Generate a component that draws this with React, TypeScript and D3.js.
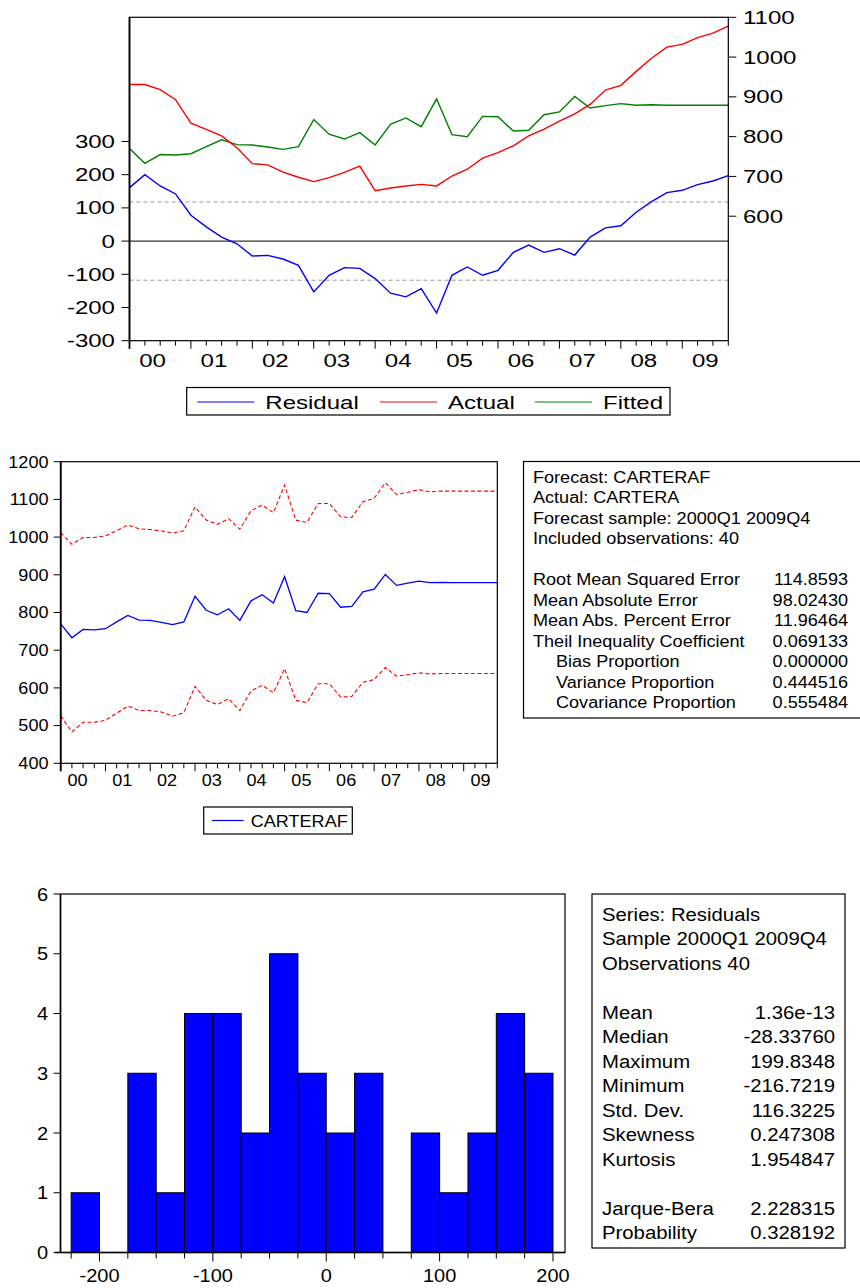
import React from "react";
import * as d3 from "d3";

// Quarterly sample 2000Q1 .. 2009Q4 (40 observations)
const yearLabels = ["00", "01", "02", "03", "04", "05", "06", "07", "08", "09"];

const residual = [
  161, 199.8, 166, 142, 78, 43, 12, -8, -45, -43, -54, -73, -153, -103, -80, -82,
  -113, -157, -168, -143, -216.7, -103, -78, -103, -88, -34, -12, -34, -23, -42,
  12, 40, 46, 87, 119, 146, 153, 170, 181, 197,
];

const actual = [
  931, 931, 918, 893, 834, 818, 802, 772, 732, 729, 711, 698, 687, 697, 710, 726,
  664, 671, 676, 680, 676, 701, 718, 746, 760, 777, 802, 819, 839, 857, 881, 917,
  929, 964, 997, 1025, 1032, 1049, 1060, 1078,
];

const fitted = [
  770, 733, 755, 754, 757, 775, 792, 780, 779, 774, 768, 775, 843, 806, 794, 810,
  779, 831, 847, 825, 895, 805, 800, 851, 850, 814, 816, 855, 862, 901, 872, 878,
  883, 879, 880, 879, 879, 879, 879, 879,
];

const upperBand = [
  1012, 981, 999, 999, 1003, 1017, 1032, 1022, 1020, 1016, 1011, 1017, 1080, 1045,
  1034, 1049, 1021, 1070, 1085, 1065, 1138, 1045, 1039, 1089, 1089, 1054, 1052,
  1094, 1103, 1144, 1113, 1119, 1126, 1120, 1122, 1122, 1122, 1122, 1122, 1122,
];

const lowerBand = [
  526, 483, 509, 509, 514, 533, 552, 540, 540, 536, 525, 534, 604, 567, 556, 571,
  540, 592, 607, 587, 651, 567, 561, 611, 611, 576, 577, 615, 622, 654, 631, 635,
  640, 637, 638, 638, 638, 638, 638, 638,
];

// S.E. of regression, drawn as the dashed band around zero
const seRegression = 117.8;

const residTicks = [-300, -200, -100, 0, 100, 200, 300];
const levelTicks = [600, 700, 800, 900, 1000, 1100];
const forecastTicks = [400, 500, 600, 700, 800, 900, 1000, 1100, 1200];
const histYTicks = [0, 1, 2, 3, 4, 5, 6];
const histXTicks = [-200, -100, 0, 100, 200];

const forecastStats = [
  ["Root Mean Squared Error", "114.8593", false],
  ["Mean Absolute Error", "98.02430", false],
  ["Mean Abs. Percent Error", "11.96464", false],
  ["Theil Inequality Coefficient", "0.069133", false],
  ["Bias Proportion", "0.000000", true],
  ["Variance Proportion", "0.444516", true],
  ["Covariance Proportion", "0.555484", true],
] as const;
const forecastHeader = [
  "Forecast: CARTERAF",
  "Actual: CARTERA",
  "Forecast sample: 2000Q1 2009Q4",
  "Included observations: 40",
];

const residHeader = ["Series: Residuals", "Sample 2000Q1 2009Q4", "Observations 40"];
const residStats1 = [
  ["Mean", "1.36e-13"],
  ["Median", "-28.33760"],
  ["Maximum", "199.8348"],
  ["Minimum", "-216.7219"],
  ["Std. Dev.", "116.3225"],
  ["Skewness", "0.247308"],
  ["Kurtosis", "1.954847"],
];
const residStats2 = [
  ["Jarque-Bera", "2.228315"],
  ["Probability", "0.328192"],
];

const FONT = "'Liberation Sans', Arial, Helvetica, sans-serif";

function T(props: {
  x: number;
  y: number;
  size: number;
  sx?: number;
  anchor?: "start" | "middle" | "end";
  children: React.ReactNode;
}) {
  const { x, y, size, sx = 1, anchor = "start", children } = props;
  return (
    <text
      transform={`translate(${x},${y}) scale(${sx},1)`}
      fontSize={size}
      fontFamily={FONT}
      textAnchor={anchor}
      fill="#000"
    >
      {children}
    </text>
  );
}

function QuarterAxis(props: {
  x: d3.ScaleLinear<number, number>;
  y0: number;
  labelY: number;
  size: number;
  sx: number;
}) {
  const { x, y0, labelY, size, sx } = props;
  return (
    <g>
      {d3.range(40).map((i) => (
        <line
          key={i}
          x1={x(i)}
          x2={x(i)}
          y1={y0}
          y2={y0 + (i % 4 === 0 ? 8 : 5)}
          stroke="#000"
          strokeWidth={1}
        />
      ))}
      {yearLabels.map((lab, k) => (
        <T key={lab} x={x(k * 4 + 1.5)} y={labelY} size={size} sx={sx} anchor="middle">
          {lab}
        </T>
      ))}
    </g>
  );
}

function ResidualPanel() {
  const left = 129.5;
  const right = 728.3;
  const top = 17.3;
  const bottom = 340.7;
  const x = d3.scaleLinear().domain([0, 39]).range([left, right]);
  const yL = d3.scaleLinear().domain([-300, 674]).range([bottom, top]);
  const yR = d3.scaleLinear().domain([287, 1100]).range([bottom, top]);
  const lineL = d3.line<number>().x((_, i) => x(i)).y((d) => yL(d));
  const lineR = d3.line<number>().x((_, i) => x(i)).y((d) => yR(d));
  const fs = 18.5;
  const sx = 1.3;
  return (
    <g>
      <line x1={left} x2={right} y1={yL(seRegression)} y2={yL(seRegression)} stroke="#9a9a9a" strokeDasharray="4,3" />
      <line x1={left} x2={right} y1={yL(-seRegression)} y2={yL(-seRegression)} stroke="#9a9a9a" strokeDasharray="4,3" />
      <line x1={left} x2={right} y1={yL(0)} y2={yL(0)} stroke="#333" strokeWidth={1.2} />
      <path d={lineR(fitted) ?? ""} fill="none" stroke="#008000" strokeWidth={1.4} />
      <path d={lineR(actual) ?? ""} fill="none" stroke="#ff0000" strokeWidth={1.4} />
      <path d={lineL(residual) ?? ""} fill="none" stroke="#0000ff" strokeWidth={1.4} />
      <rect x={left} y={top} width={right - left} height={bottom - top} fill="none" stroke="#000" strokeWidth={1.2} />
      <line x1={left} x2={left} y1={top} y2={bottom + 8} stroke="#000" strokeWidth={1.8} />
      {residTicks.map((t) => (
        <g key={t}>
          <line x1={left - 8} x2={left} y1={yL(t)} y2={yL(t)} stroke="#000" />
          <T x={115} y={yL(t) + 6.5} size={fs} sx={sx} anchor="end">
            {t}
          </T>
        </g>
      ))}
      {levelTicks.map((t) => (
        <g key={t}>
          <line x1={right} x2={right + 8} y1={yR(t)} y2={yR(t)} stroke="#000" />
          <T x={743} y={yR(t) + 6.5} size={fs} sx={sx}>
            {t}
          </T>
        </g>
      ))}
      <QuarterAxis x={x} y0={bottom} labelY={367} size={fs} sx={sx} />
      {/* legend */}
      <rect x={186.7} y={387.5} width={483.3} height={27.5} fill="#fff" stroke="#000" strokeWidth={1.2} />
      {[
        { c: "#0000ff", l: "Residual", x0: 197.3 },
        { c: "#ff0000", l: "Actual", x0: 380 },
        { c: "#008000", l: "Fitted", x0: 535 },
      ].map((d) => (
        <g key={d.l}>
          <line x1={d.x0} x2={d.x0 + 57} y1={402} y2={402} stroke={d.c} strokeWidth={1.2} />
          <T x={d.x0 + 68} y={409} size={fs} sx={sx}>
            {d.l}
          </T>
        </g>
      ))}
    </g>
  );
}

function ForecastPanel() {
  const left = 60.7;
  const right = 497.3;
  const top = 461.7;
  const bottom = 763.3;
  const x = d3.scaleLinear().domain([0, 39]).range([left, right]);
  const y = d3.scaleLinear().domain([400, 1200]).range([bottom, top]);
  const line = d3.line<number>().x((_, i) => x(i)).y((d) => y(d));
  const fs = 16;
  const sx = 1.13;
  return (
    <g>
      <path d={line(upperBand) ?? ""} fill="none" stroke="#ff0000" strokeWidth={1.1} strokeDasharray="4,2.5" />
      <path d={line(lowerBand) ?? ""} fill="none" stroke="#ff0000" strokeWidth={1.1} strokeDasharray="4,2.5" />
      <path d={line(fitted) ?? ""} fill="none" stroke="#0000ff" strokeWidth={1.3} />
      <rect x={left} y={top} width={right - left} height={bottom - top} fill="none" stroke="#000" strokeWidth={1.2} />
      <line x1={left} x2={left} y1={top} y2={bottom + 8} stroke="#000" strokeWidth={1.8} />
      {forecastTicks.map((t) => (
        <g key={t}>
          <line x1={left - 7} x2={left} y1={y(t)} y2={y(t)} stroke="#000" />
          <T x={48.5} y={y(t) + 5.8} size={fs} sx={sx} anchor="end">
            {t}
          </T>
        </g>
      ))}
      <QuarterAxis x={x} y0={bottom} labelY={786} size={fs} sx={sx} />
      <rect x={203.7} y={807} width={148.6} height={27} fill="#fff" stroke="#000" strokeWidth={1.2} />
      <line x1={212} x2={243.5} y1={820.5} y2={820.5} stroke="#0000ff" strokeWidth={1.2} />
      <T x={250.7} y={826.5} size={fs} sx={sx}>
        CARTERAF
      </T>

      {/* forecast evaluation table */}
      <rect x={523.5} y={461.5} width={400} height={256.5} fill="#fff" stroke="#000" strokeWidth={1.2} />
      {forecastHeader.map((s, i) => (
        <T key={s} x={533} y={482.5 + i * 20.5} size={fs} sx={sx}>
          {s}
        </T>
      ))}
      {forecastStats.map(([k, v, indent], i) => (
        <g key={k}>
          <T x={indent ? 556 : 533} y={482.5 + (i + 5) * 20.5} size={fs} sx={sx}>
            {k}
          </T>
          <T x={848} y={482.5 + (i + 5) * 20.5} size={fs} sx={sx} anchor="end">
            {v}
          </T>
        </g>
      ))}
    </g>
  );
}

function HistogramPanel() {
  const left = 60.5;
  const right = 565;
  const top = 894;
  const bottom = 1252.5;
  const x = d3.scaleLinear().domain([-234.4, 210.6]).range([left, right]);
  const y = d3.scaleLinear().domain([0, 6]).range([bottom, top]);
  const bins = d3
    .bin()
    .domain([-225, 200])
    .thresholds(d3.range(-200, 200, 25))(residual);
  const fs = 18.5;
  const sx = 1.08;
  const tickVals = d3.range(-225, 201, 25);
  return (
    <g>
      {bins
        .filter((b) => b.length > 0)
        .map((b) => (
          <rect
            key={b.x0}
            x={x(b.x0 as number)}
            y={y(b.length)}
            width={x(b.x1 as number) - x(b.x0 as number)}
            height={y(0) - y(b.length)}
            fill="#0000ff"
            stroke="#000"
            strokeWidth={1}
          />
        ))}
      <rect x={left} y={top} width={right - left} height={bottom - top} fill="none" stroke="#000" strokeWidth={1.2} />
      <line x1={left} x2={left} y1={top} y2={bottom} stroke="#000" strokeWidth={1.6} />
      <line x1={left - 6} x2={right} y1={bottom} y2={bottom} stroke="#000" strokeWidth={1.6} />
      {histYTicks.map((t) => (
        <g key={t}>
          <line x1={left - 7} x2={left} y1={y(t)} y2={y(t)} stroke="#000" />
          <T x={48} y={y(t) + 6.5} size={fs} sx={sx} anchor="end">
            {t}
          </T>
        </g>
      ))}
      {tickVals.map((t) => (
        <line
          key={t}
          x1={x(t)}
          x2={x(t)}
          y1={bottom}
          y2={bottom + (t % 100 === 0 ? 9 : 6)}
          stroke="#000"
        />
      ))}
      {histXTicks.map((t) => (
        <T key={t} x={x(t)} y={1282} size={fs} sx={sx} anchor="middle">
          {t}
        </T>
      ))}

      {/* descriptive statistics */}
      <rect x={592} y={894} width={253} height={354} fill="#fff" stroke="#000" strokeWidth={1.2} />
      {residHeader.map((s, i) => (
        <T key={s} x={602} y={920.5 + i * 24.5} size={18} sx={1.13}>
          {s}
        </T>
      ))}
      {residStats1.map(([k, v], i) => (
        <g key={k}>
          <T x={602} y={920.5 + (i + 4) * 24.5} size={18} sx={1.13}>
            {k}
          </T>
          <T x={835} y={920.5 + (i + 4) * 24.5} size={18} sx={1.13} anchor="end">
            {v}
          </T>
        </g>
      ))}
      {residStats2.map(([k, v], i) => (
        <g key={k}>
          <T x={602} y={920.5 + (i + 12) * 24.5} size={18} sx={1.13}>
            {k}
          </T>
          <T x={835} y={920.5 + (i + 12) * 24.5} size={18} sx={1.13} anchor="end">
            {v}
          </T>
        </g>
      ))}
    </g>
  );
}

export default function App() {
  return (
    <svg
      width={860}
      height={1288}
      viewBox="0 0 860 1288"
      style={{ position: "absolute", left: 0, top: 0, background: "#fff" }}
    >
      <rect x={0} y={0} width={860} height={1288} fill="#fff" />
      <ResidualPanel />
      <ForecastPanel />
      <HistogramPanel />
    </svg>
  );
}
